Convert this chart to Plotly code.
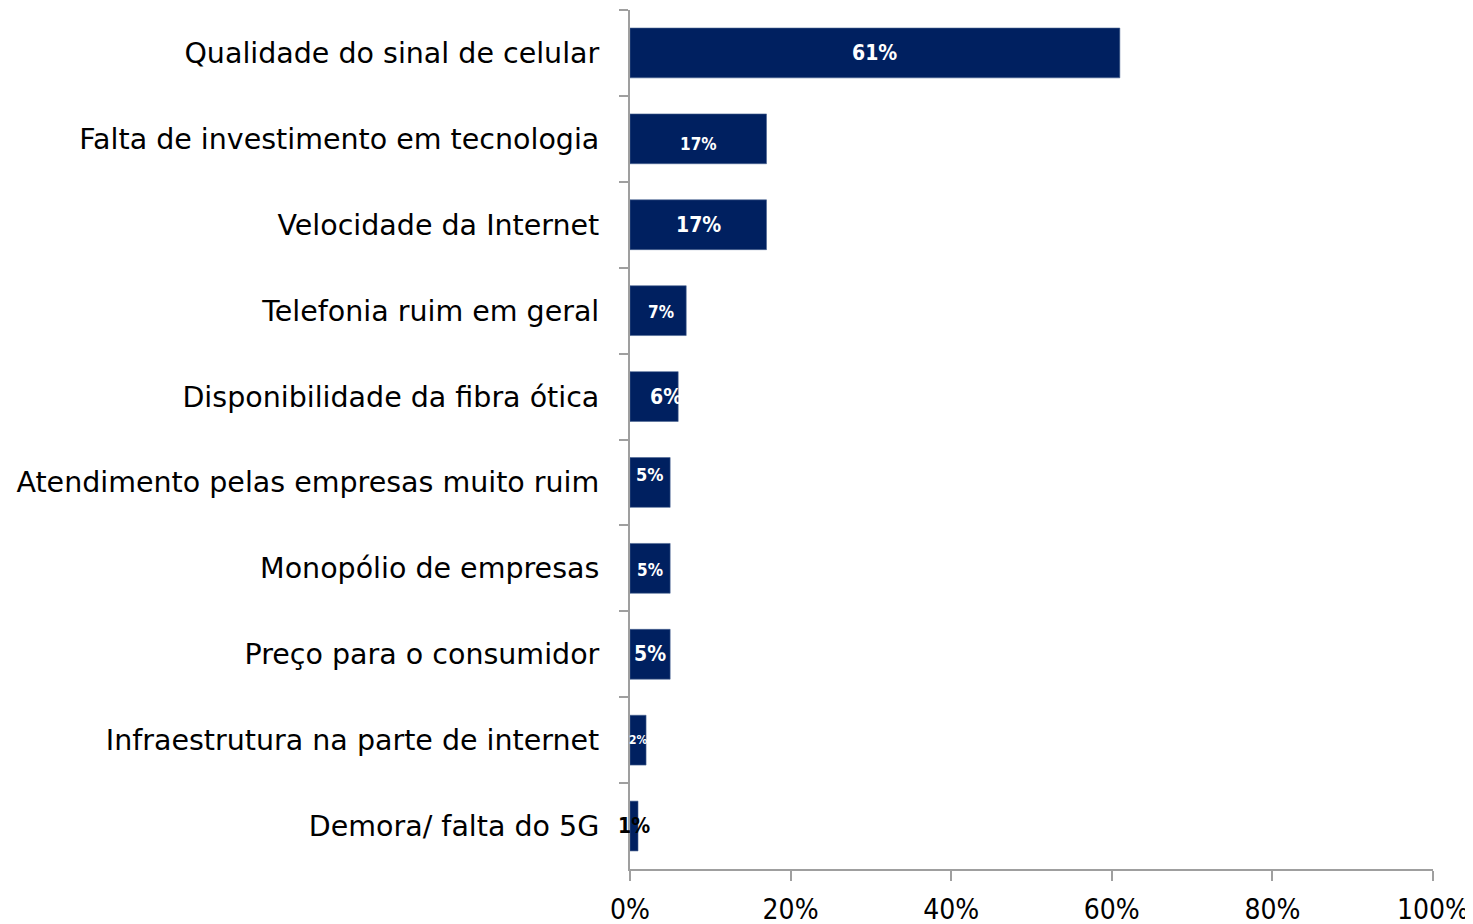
import plotly.graph_objects as go

# data
categories = [
    "Qualidade do sinal de celular",
    "Falta de investimento em tecnologia",
    "Velocidade da Internet",
    "Telefonia ruim em geral",
    "Disponibilidade da fibra ótica",
    "Atendimento pelas empresas muito ruim",
    "Monopólio de empresas",
    "Preço para o consumidor",
    "Infraestrutura na parte de internet",
    "Demora/ falta do 5G",
]
values = [0.61, 0.17, 0.17, 0.07, 0.06, 0.05, 0.05, 0.05, 0.02, 0.01]
value_labels = ["61%", "17%", "17%", "7%", "6%", "5%", "5%", "5%", "2%", "1%"]

# label styling (the original labels are a bit inconsistent in size/placement)
label_sizes = [21, 17, 21, 17, 21, 18, 17, 21, 12, 21]
label_colors = ["white"] * 9 + ["black"]
label_xshift = [0, 0, 0, 3, 12, 0, 0, 0, 0, 0]
label_yshift = [0, -5, 0, -1, 0, 8, -2, 0, 0, 0]

FONT = "DejaVu Sans, Verdana, sans-serif"
FONT_NARROW = "DejaVu Sans Condensed, Tahoma, sans-serif"
BAR_COLOR = "#002060"
AXIS_GREY = "#9f9f9f"

fig = go.Figure()
fig.add_trace(go.Bar(
    x=values,
    y=categories,
    orientation="h",
    marker=dict(color=BAR_COLOR, line=dict(color="#4a6592", width=0.6)),
    hoverinfo="x+y",
))

# value labels centered on each bar
for i, (cat, v, txt) in enumerate(zip(categories, values, value_labels)):
    fig.add_annotation(
        x=v / 2, y=cat, text=f"<b>{txt}</b>", showarrow=False,
        xanchor="center", yanchor="middle",
        xshift=label_xshift[i], yshift=label_yshift[i],
        font=dict(family=FONT_NARROW, size=label_sizes[i], color=label_colors[i]),
    )

# page body adds an 8px margin, so the figure is a bit smaller than the window
fig.update_layout(
    width=1465, height=916,
    margin=dict(l=622, r=40, t=2, b=55),
    paper_bgcolor="white", plot_bgcolor="white",
    bargap=0.42,
    showlegend=False,
    font=dict(family=FONT, color="black"),
)
fig.update_xaxes(
    range=[0, 1], dtick=0.2, tickformat=".0%",
    automargin=False,
    showgrid=False, zeroline=False,
    showline=True, linecolor=AXIS_GREY, linewidth=2,
    ticks="outside", ticklen=10, tickcolor=AXIS_GREY, tickwidth=2,
    ticklabelstandoff=4,
    tickfont=dict(family=FONT_NARROW, size=28, color="black"),
)
fig.update_yaxes(
    autorange="reversed",
    automargin=False,
    showgrid=False, zeroline=False,
    showline=True, linecolor=AXIS_GREY, linewidth=2,
    ticks="outside", ticklen=9, tickcolor=AXIS_GREY, tickwidth=2,
    tickson="boundaries",
    ticklabelstandoff=23,
    tickfont=dict(family=FONT, size=28.5, color="black"),
)

fig.write_html("out.html")
